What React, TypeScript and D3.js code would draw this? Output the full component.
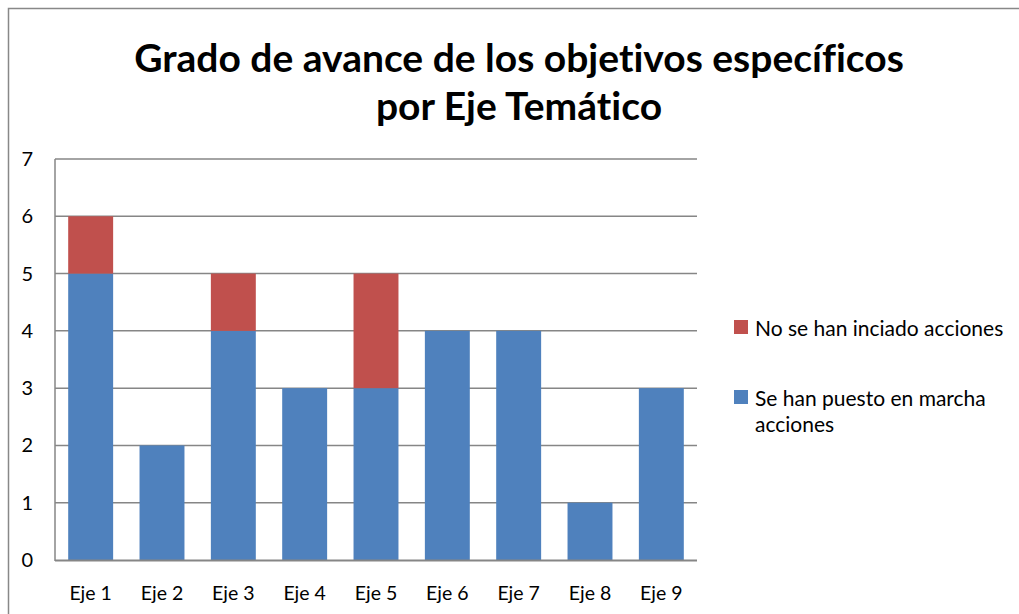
import React from "react";
import * as d3 from "d3";

const categories = ["Eje 1", "Eje 2", "Eje 3", "Eje 4", "Eje 5", "Eje 6", "Eje 7", "Eje 8", "Eje 9"];
const iniciadas = [5, 2, 4, 3, 3, 4, 4, 1, 3];
const noIniciadas = [1, 0, 1, 0, 2, 0, 0, 0, 0];
const yTicks = [0, 1, 2, 3, 4, 5, 6, 7];
const seriesNames = ["Se han puesto en marcha acciones", "No se han inciado acciones"];
const colors = ["#4F81BD", "#C0504D"];

const W = 1019;
const H = 614;
const font = "Lato, 'Open Sans', sans-serif";

export default function App() {
  const x = d3.scaleBand<string>().domain(categories).range([55, 697]).paddingInner(0.37).paddingOuter(0.185);
  const y = d3.scaleLinear().domain([0, 7]).range([560, 159]);

  const rows = categories.map((c, i) => ({ cat: c, a: iniciadas[i], b: noIniciadas[i] }));
  const stacked = d3.stack<any>().keys(["a", "b"])(rows);

  return (
    <svg
      width={W}
      height={H}
      style={{ position: "absolute", left: 0, top: 0, background: "#fff", fontVariantLigatures: "none" }}
    >
      <rect x={8.5} y={8.5} width={W + 20} height={H + 20} fill="#fff" stroke="#888" strokeWidth={1.5} />
      <text x={519} y={72} textAnchor="middle" fontFamily={font} fontWeight="bold" fontSize={39} fill="#000">
        Grado de avance de los objetivos específicos
      </text>
      <text x={519} y={120} textAnchor="middle" fontFamily={font} fontWeight="bold" fontSize={39} fill="#000">
        por Eje Temático
      </text>

      {yTicks.map((t) => (
        <g key={t}>
          {t > 0 && <line x1={55} x2={697} y1={y(t)} y2={y(t)} stroke="#868686" strokeWidth={1.5} />}
          <text x={33} y={y(t) + 7} textAnchor="end" fontFamily={font} fontSize={20} fill="#000">
            {t}
          </text>
        </g>
      ))}

      {stacked.map((s, si) =>
        s.map((d, i) =>
          d[1] - d[0] > 0 ? (
            <rect
              key={si + "-" + i}
              x={x(categories[i])!}
              y={y(d[1])}
              width={x.bandwidth()}
              height={y(d[0]) - y(d[1])}
              fill={colors[si]}
            />
          ) : null
        )
      )}

      <line x1={55} x2={55} y1={159} y2={561} stroke="#868686" strokeWidth={1.5} />
      <line x1={55} x2={697} y1={560.5} y2={560.5} stroke="#868686" strokeWidth={2} />

      {categories.map((c) => (
        <text key={c} x={x(c)! + x.bandwidth() / 2} y={600} textAnchor="middle" fontFamily={font} fontSize={19.5} fill="#000">
          {c}
        </text>
      ))}

      <rect x={734} y={320} width={14} height={14} fill={colors[1]} />
      <text x={755} y={336} fontFamily={font} fontSize={21} fill="#000">
        {seriesNames[1]}
      </text>
      <rect x={734} y={390} width={14} height={14} fill={colors[0]} />
      <text x={755} y={406} fontFamily={font} fontSize={21} fill="#000">
        Se han puesto en marcha
      </text>
      <text x={755} y={432} fontFamily={font} fontSize={21} fill="#000">
        acciones
      </text>
    </svg>
  );
}
